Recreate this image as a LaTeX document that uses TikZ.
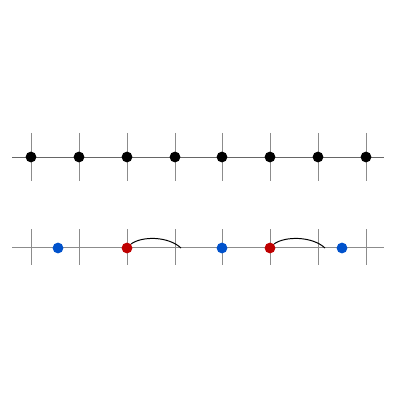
\documentclass[tikz,border=0pt]{standalone}
\begin{document}
\begin{tikzpicture}[x=0.025cm,y=-0.025cm,
  axis/.style={draw=black!45,line width=0.7pt},
  tick/.style={draw=black!45,line width=0.7pt},
  bdot/.style={circle,fill=black,inner sep=0pt,minimum size=0.27cm},
  bluedot/.style={circle,fill=blue!60!cyan!80!black,inner sep=0pt,minimum size=0.27cm},
  reddot/.style={circle,fill=red!75!black,inner sep=0pt,minimum size=0.27cm},
  arc/.style={draw=black,line width=0.7pt}]
\useasboundingbox (0,0) rectangle (400,400);
% top row
\coordinate (tl) at (12,157);
\coordinate (tr) at (384,157);
\draw[axis,draw=black!60] (tl) -- (tr);
\foreach \i/\x in {1/31,2/79,3/127,4/175,5/222,6/270,7/318,8/366}{
  \coordinate (tt\i) at (\x,133);
  \coordinate (tb\i) at (\x,181);
  \draw[tick] (tt\i) -- (tb\i);
  \node[bdot] (d\i) at (\x,157) {};
}
% bottom row
\coordinate (bl) at (12,247);
\coordinate (br) at (384,247);
\draw[axis] (bl) -- (br);
\foreach \i/\x in {1/31,2/79,3/127,4/175,5/222,6/270,7/318,8/366}{
  \coordinate (bt\i) at (\x,229);
  \coordinate (bb\i) at (\x,265);
  \draw[tick] (bt\i) -- (bb\i);
}
\coordinate (e1) at (181,248);
\coordinate (e2) at (325,248);
\node[bluedot] (b1) at (58,248) {};
\node[bluedot] (b2) at (222,248) {};
\node[bluedot] (b3) at (342,248) {};
\node[reddot] (r1) at (127,248) {};
\node[reddot] (r2) at (270,248) {};
\draw[arc] (r1.north east) .. controls (142,236) and (168,236) .. (e1);
\draw[arc] (r2.north east) .. controls (285,236) and (312,236) .. (e2);
\end{tikzpicture}
\end{document}
